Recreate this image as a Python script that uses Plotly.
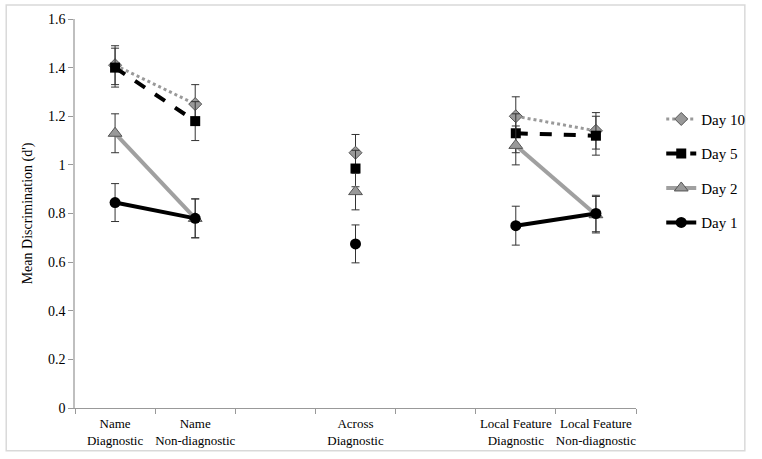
import plotly.graph_objects as go

categories = ["Name<br>Diagnostic", "Name<br>Non-diagnostic", "", "Across<br>Diagnostic", "",
              "Local Feature<br>Diagnostic", "Local Feature<br>Non-diagnostic"]

day10 = [1.41, 1.25, None, 1.05, None, 1.20, 1.14]
day5 = [1.40, 1.18, None, 0.985, None, 1.13, 1.12]
day2 = [1.13, 0.78, None, 0.89, None, 1.08, 0.795]
day1 = [0.845, 0.78, None, 0.675, None, 0.75, 0.80]

err10 = [0.08, 0.08, 0, 0.075, 0, 0.08, 0.075]
err5 = [0.08, 0.08, 0, 0.075, 0, 0.08, 0.08]
err2 = [0.08, 0.08, 0, 0.075, 0, 0.08, 0.075]
err1 = [0.078, 0.08, 0, 0.078, 0, 0.08, 0.075]

series = [
    ("Day 10", day10, err10, dict(color="#999999", width=3, dash="dot"),
     dict(symbol="diamond", size=10, color="#999999", line=dict(color="#555555", width=1))),
    ("Day 5", day5, err5, dict(color="black", width=4, dash="dash"),
     dict(symbol="square", size=10, color="black")),
    ("Day 2", day2, err2, dict(color="#a0a0a0", width=4),
     dict(symbol="triangle-up", size=12, color="#999999", line=dict(color="#555555", width=1))),
    ("Day 1", day1, err1, dict(color="black", width=4),
     dict(symbol="circle", size=11, color="black")),
]

SERIF = "Liberation Serif"

x = list(range(len(categories)))
fig = go.Figure()
for name, vals, errs, line, marker in series:
    fig.add_trace(go.Scatter(
        x=x, y=vals, name=name, mode="lines+markers",
        line=line, marker=marker, connectgaps=False, legendgroup=name,
        error_y=dict(type="data", array=errs, visible=True, color="#333333",
                     thickness=1, width=4),
    ))

fig.update_layout(
    width=762, height=459,
    margin=dict(l=75, r=117, t=19, b=51),
    paper_bgcolor="white", plot_bgcolor="white",
    font=dict(family=SERIF, size=13, color="black"),
    showlegend=True,
    legend=dict(x=1.045, y=0.61, xanchor="left", yanchor="middle",
                font=dict(family=SERIF, size=15), tracegroupgap=12,
                bgcolor="rgba(0,0,0,0)"),
    xaxis=dict(range=[-0.5, 6.5], tickvals=x, ticktext=categories,
               ticks="", showgrid=False, zeroline=False, showline=True,
               linecolor="#999999", linewidth=1, ticklabelstandoff=3,
               minor=dict(ticks="outside", tick0=-0.5, dtick=1, ticklen=5,
                          tickcolor="#999999", showgrid=False),
               tickfont=dict(family=SERIF, size=13)),
    yaxis=dict(range=[0, 1.6], dtick=0.2, tick0=0, showgrid=False, zeroline=False,
               showline=True, linecolor="#bfbfbf", linewidth=1.5,
               ticks="outside", ticklen=5, tickcolor="#999999",
               tickfont=dict(family=SERIF, size=14),
               title=dict(text="Mean Discrimination (d')", font=dict(family=SERIF, size=14), standoff=12)),
    shapes=[dict(type="rect", xref="paper", yref="paper",
                 x0=-0.1226, x1=1.194, y0=-0.11, y1=1.036,
                 line=dict(color="#d9d9d9", width=1.5), fillcolor="rgba(0,0,0,0)", layer="below")],
)

fig.write_html("out.html", post_script="document.body.style.margin='0px';",
               config={"displayModeBar": False})
